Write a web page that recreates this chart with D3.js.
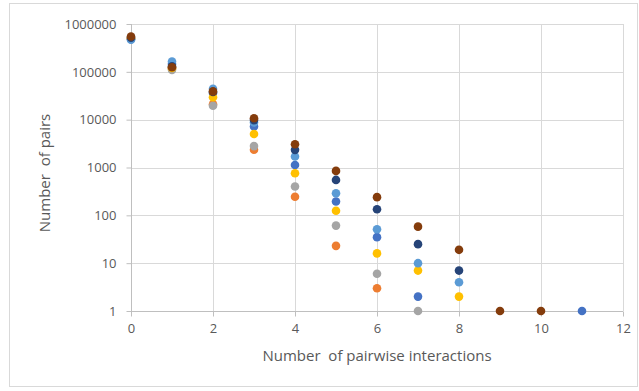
<!DOCTYPE html>
<html>
<head>
<meta charset="utf-8">
<script src="https://cdn.jsdelivr.net/npm/d3@7"></script>
<style>
  html, body { margin: 0; padding: 0; background: #fff; }
  svg text { font-family: "Open Sans", "Liberation Sans", sans-serif; fill: #595959; }
</style>
</head>
<body>
<svg id="chart" width="639" height="391"></svg>
<script>
// Data (x = number of pairwise interactions, y = number of pairs)
const xTicks = [0, 2, 4, 6, 8, 10, 12];
const yTicks = [1, 10, 100, 1000, 10000, 100000, 1000000];
const seriesColors = ["#4472C4", "#ED7D31", "#A5A5A5", "#FFC000", "#5B9BD5", "#264478", "#843C0C"];
const blueX = [0, 1, 2, 3, 4, 5, 6, 7, 11];
const blueY = [480000, 145000, 36000, 7200, 1130, 194, 35, 2, 1];
const orangeX = [0, 1, 2, 3, 4, 5, 6];
const orangeY = [500000, 118000, 21000, 2350, 245, 23, 3];
const grayX = [0, 1, 2, 3, 4, 5, 6, 7];
const grayY = [490000, 110000, 19500, 2800, 400, 61, 6, 1];
const yellowX = [0, 1, 2, 3, 4, 5, 6, 7, 8];
const yellowY = [500000, 120000, 29500, 5000, 760, 125, 16, 7, 2];
const lightBlueX = [0, 1, 2, 3, 4, 5, 6, 7, 8];
const lightBlueY = [467000, 164000, 44000, 8700, 1700, 290, 51, 10, 4];
const navyX = [0, 1, 2, 3, 4, 5, 6, 7, 8];
const navyY = [520000, 130000, 38000, 9800, 2340, 550, 134, 25, 7];
const brownX = [0, 1, 2, 3, 4, 5, 6, 7, 8, 9, 10];
const brownY = [548000, 125000, 39000, 10700, 3070, 850, 240, 58, 19, 1, 1];

const series = [
  [blueX, blueY], [orangeX, orangeY], [grayX, grayY], [yellowX, yellowY],
  [lightBlueX, lightBlueY], [navyX, navyY], [brownX, brownY]
];

const svg = d3.select("#chart");
const mLeft = 131, mRight = 623, mTop = 24, mBottom = 311;

// outer frame
svg.append("rect").attr("x", 9.5).attr("y", 3.5).attr("width", 628).attr("height", 383)
  .attr("fill", "#fff").attr("stroke", "#D9D9D9").attr("stroke-width", 1);

const x = d3.scaleLinear().domain([0, 12]).range([mLeft, mRight]);
const y = d3.scaleLog().domain([1, 1000000]).range([mBottom, mTop]);

// gridlines
svg.append("g").selectAll("line").data(xTicks.slice(1)).join("line")
  .attr("x1", d => Math.round(x(d)) + 0.5).attr("x2", d => Math.round(x(d)) + 0.5)
  .attr("y1", mTop).attr("y2", mBottom).attr("stroke", "#D9D9D9");
svg.append("g").selectAll("line").data(yTicks.slice(1)).join("line")
  .attr("x1", mLeft).attr("x2", mRight)
  .attr("y1", d => Math.round(y(d)) + 0.5).attr("y2", d => Math.round(y(d)) + 0.5)
  .attr("stroke", "#D9D9D9");

// axes
const xAxis = d3.axisBottom(x).tickValues(xTicks).tickSize(5).tickPadding(7).tickFormat(d3.format("d"));
const gx = svg.append("g").attr("transform", `translate(0,${Math.round(mBottom) + 0.5})`).call(xAxis);
gx.select(".domain").attr("stroke", "#BFBFBF").attr("d", `M${mLeft},0H${mRight}`);
gx.selectAll(".tick line").attr("stroke", "#BFBFBF");
gx.selectAll("text").attr("font-size", 13).attr("fill", "#595959");

const yAxis = d3.axisLeft(y).tickValues(yTicks).tickSize(5).tickPadding(10).tickFormat(d3.format("d"));
const gy = svg.append("g").attr("transform", `translate(${Math.round(mLeft) + 0.5},0)`).call(yAxis);
gy.select(".domain").attr("stroke", "#BFBFBF").attr("d", `M0,${mTop}V${mBottom}`);
gy.selectAll(".tick line").attr("stroke", "#BFBFBF");
gy.selectAll("text").attr("font-size", 13).attr("fill", "#595959");

// points
series.forEach(([xs, ys], i) => {
  const pts = xs.map((v, j) => [v, ys[j]]);
  svg.append("g").selectAll("circle").data(pts).join("circle")
    .attr("cx", d => x(d[0])).attr("cy", d => y(d[1])).attr("r", 4.3)
    .attr("fill", seriesColors[i]);
});

// titles
svg.append("text").attr("x", 377).attr("y", 361).attr("text-anchor", "middle")
  .attr("font-size", 15).style("white-space", "pre").text("Number  of pairwise interactions");
svg.append("text").attr("transform", `translate(50,173) rotate(-90)`)
  .attr("text-anchor", "middle").attr("font-size", 15).style("white-space", "pre").text("Number  of pairs");
</script>
</body>
</html>
